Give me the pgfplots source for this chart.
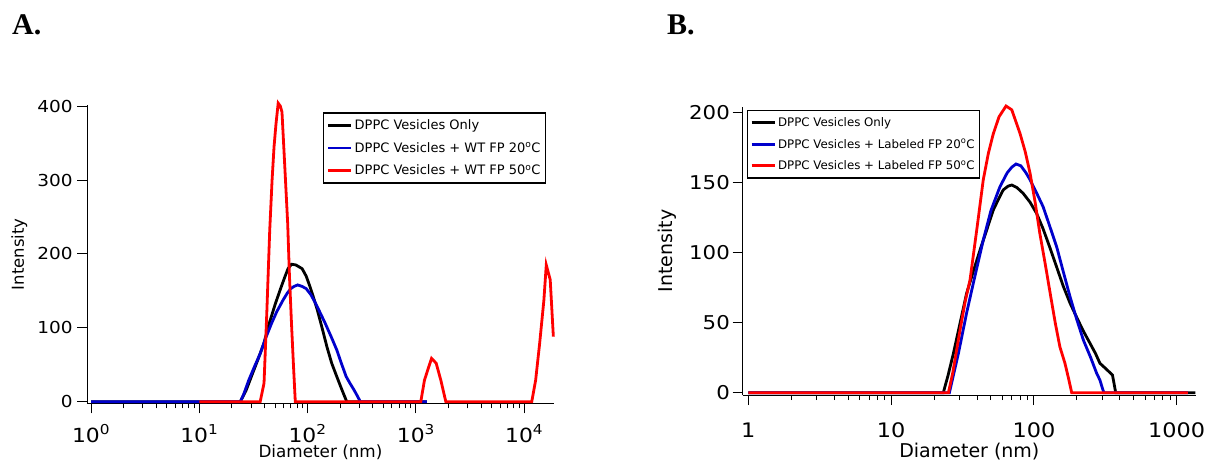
\documentclass[border=0pt]{standalone}
\usepackage{fontspec}
\setmainfont{DejaVu Sans}
\newfontfamily\tickfont{DejaVu Sans}[FakeStretch=1.12]
\newfontfamily\serifb{Liberation Serif}
\usepackage{pgfplots}
\pgfplotsset{compat=1.18}
\definecolor{myblue}{RGB}{0,0,204}
\definecolor{myred}{RGB}{255,0,0}
\pgfplotsset{
 dls/.style={
  scale only axis,
  axis x line*=bottom, axis y line*=left,
  axis line style={line width=1pt,-},
  tick align=outside, major tick length=10pt, minor tick length=5pt,
  every tick/.style={black, line width=0.9pt},
  clip=false,
  legend cell align=left,
  legend image code/.code={\draw[##1, line width=2.8pt] (0pt,0pt) -- (23pt,0pt);},
 }
}
\begin{document}
\begin{tikzpicture}
\path[use as bounding box] (0pt,0pt) rectangle (1207pt,461pt);
\node[anchor=base west, inner sep=0pt, font=\serifb\bfseries\fontsize{30}{30}\selectfont] at (12pt,426.5pt) {A.};
\node[anchor=base west, inner sep=0pt, font=\serifb\bfseries\fontsize{30}{30}\selectfont] at (667pt,426pt) {B.};

% Panel A
\begin{semilogxaxis}[dls,
  at={(87.3pt,57.7pt)}, anchor=south west, width=466.3pt, height=298.3pt,
  xmin=0.924, xmax=18700, ymin=-2.2, ymax=401.5,
  xtick={1,10,100,1000,10000},
  xticklabels={10\textsuperscript{0},10\textsuperscript{1},10\textsuperscript{2},10\textsuperscript{3},10\textsuperscript{4}},
  minor xtick={2,3,...,9,20,30,...,90,200,300,...,900,2000,3000,...,9000},
  ytick={0,100,200,300,400}, yticklabels={0,100,200,300,400},
  xticklabel style={font=\tickfont\fontsize{19.5}{24}\selectfont, anchor=base, inner sep=0pt, yshift=-28.7pt},
  yticklabel style={font=\tickfont\fontsize{16.5}{20}\selectfont, anchor=east, inner sep=0pt, xshift=-4.6pt},
  xlabel={Diameter (nm)}, ylabel={Intensity},
  xlabel style={font=\fontsize{16.8}{20}\selectfont, at={([yshift=-54.3pt]axis description cs:0.5,0)}, anchor=base},
  ylabel style={font=\fontsize{16.5}{20}\selectfont, at={([xshift=-63.3pt]axis description cs:0,0.5)}, anchor=base},
  legend style={draw=black, line width=1.2pt, at={(axis description cs:0.506,0.9755)}, anchor=north west,
    font=\fontsize{13}{15}\selectfont, row sep=7pt, inner xsep=3pt, inner ysep=5pt},
]
\addplot[black, line width=2.8pt] coordinates {(1,0) (23.9,0) (27,15) (31,38) (35,58) (39.5,79) (44,105) (50.5,133) (56,152) (61.7,169) (66,180) (71,186) (78,185) (89,180) (97,170) (105,156) (114,140) (123,124) (136,100) (151,74) (167,52) (186,34) (205,18) (227,2) (230,0) (1260,0)};
\addlegendentry{DPPC Vesicles Only}
\addplot[myblue, line width=2.8pt] coordinates {(1,0) (24,0) (26,12) (28.6,29) (32,46) (36.5,65) (41,86) (46.5,106) (52,122) (59.4,137.6) (65,147) (70,153) (75,156) (81,158) (89,156) (97,153) (107,145) (118.6,133) (131,120) (145.5,106) (165,88) (186,70) (205,52) (227,34) (246,25) (268,16) (285,9) (302,2) (305,0) (1260,0)};
\addlegendentry{DPPC Vesicles + WT FP 20\textsuperscript{o}C}
\addplot[myred, line width=2.8pt] coordinates {(10,0) (36.5,0) (39.6,25) (42,120) (44.7,232) (47,300) (49,345) (51,375) (53.5,404) (56,400) (58,392) (61,330) (65.5,241) (68,170) (71,106) (74,50) (77,0) (1110,0) (1200,29) (1300,45) (1396,58.6) (1540,52) (1700,29) (1890,0) (11750,0) (12760,29) (13900,79) (15200,137) (16000,185) (17400,165) (18600,88)};
\addlegendentry{DPPC Vesicles + WT FP 50\textsuperscript{o}C}
\end{semilogxaxis}

% Panel B
\begin{semilogxaxis}[dls,
  at={(742.7pt,66pt)}, anchor=south west, width=453.3pt, height=288pt,
  xmin=0.914, xmax=1365, ymin=-1.64, ymax=204,
  xtick={1,10,100,1000}, xticklabels={1,10,100,1000},
  minor xtick={2,3,...,9,20,30,...,90,200,300,...,900},
  ytick={0,50,100,150,200}, yticklabels={0,50,100,150,200},
  xticklabel style={font=\tickfont\fontsize{20}{24}\selectfont, anchor=base, inner sep=0pt, yshift=-32.7pt},
  yticklabel style={font=\tickfont\fontsize{19}{22}\selectfont, anchor=east, inner sep=0pt, xshift=-2.7pt},
  xlabel={Diameter (nm)}, ylabel={Intensity},
  xlabel style={font=\fontsize{19}{22}\selectfont, at={([yshift=-62pt]axis description cs:0.5,0)}, anchor=base},
  ylabel style={font=\fontsize{19}{22}\selectfont, at={([xshift=-70.7pt]axis description cs:0,0.5)}, anchor=base},
  legend style={draw=black, line width=1.2pt, at={(axis description cs:0.0088,0.9895)}, anchor=north west,
    font=\fontsize{11.8}{14}\selectfont, row sep=7pt, inner xsep=3pt, inner ysep=5pt},
]
\addplot[black, line width=2.8pt] coordinates {(1,0) (23.2,0) (25,12) (27.3,28) (30,47) (33.8,71) (38,88) (42,102) (47,117) (52,130.5) (57,139) (61,144.8) (66,147.5) (70,148.3) (76,146.5) (84,142.4) (94,136) (104.5,128) (116,117) (129,104) (144,90) (161,75.7) (179,64) (199,54) (222,44) (247,35.3) (270,28) (290,21) (320,17) (355,12.6) (365,6) (374,0) (1350,0)};
\addlegendentry{DPPC Vesicles Only}
\addplot[myblue, line width=2.8pt] coordinates {(1,0) (25.6,0) (29.6,28) (33.8,57) (38,80) (44.2,109) (50,130) (57.8,147) (65,157) (70,161) (75,163.3) (81,162) (88,157) (94,152) (104,143) (116,132.8) (129,119) (144.5,104) (160,87) (179,68.6) (200,52) (222,37.6) (250,25) (275,13.9) (290,9) (300,4) (309,0) (1200,0)};
\addlegendentry{DPPC Vesicles + Labeled FP 20\textsuperscript{o}C}
\addplot[myred, line width=2.8pt] coordinates {(1,0) (25.2,0) (27,14) (30.4,44.8) (33,65) (35.7,80.5) (40,118) (44.2,152) (48,171) (52,185) (57,197) (63.8,204.7) (70,202) (80,185) (87,172) (94,156.7) (102,136) (110,113.8) (120,92) (130,71) (141,50) (152,32.8) (165,21) (175,10) (184,0) (1197,0)};
\addlegendentry{DPPC Vesicles + Labeled FP 50\textsuperscript{o}C}
\end{semilogxaxis}
\end{tikzpicture}
\end{document}
